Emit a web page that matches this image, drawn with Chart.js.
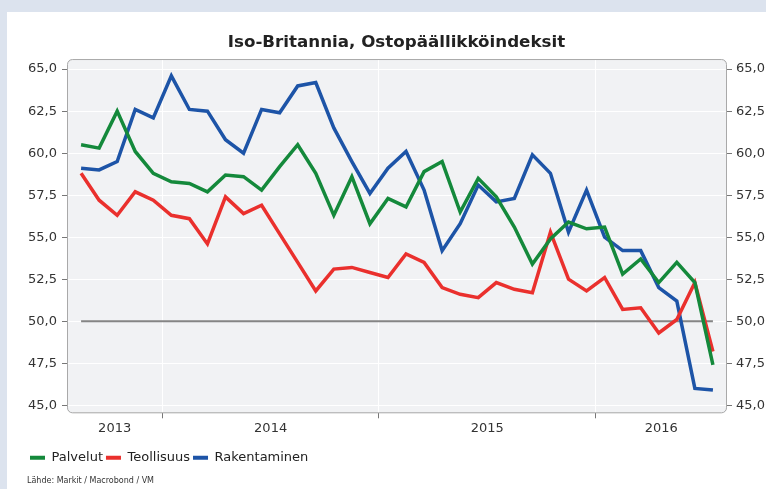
<!DOCTYPE html>
<html><head><meta charset="utf-8">
<script src="https://cdn.jsdelivr.net/npm/chart.js@4.4.0/dist/chart.umd.min.js"></script>
<style>
html,body{margin:0;padding:0;background:#dce3ee;width:766px;height:489px;overflow:hidden}
#panel{position:absolute;left:7px;top:12px;width:759px;height:477px;background:#fff}
#c{position:absolute;left:0;top:0}
</style></head><body>
<div id="panel"></div>
<canvas id="c" width="766" height="489"></canvas>
<script>
// ---- data ----
const months = [
 '2013-08','2013-09','2013-10','2013-11','2013-12',
 '2014-01','2014-02','2014-03','2014-04','2014-05','2014-06','2014-07','2014-08','2014-09','2014-10','2014-11','2014-12',
 '2015-01','2015-02','2015-03','2015-04','2015-05','2015-06','2015-07','2015-08','2015-09','2015-10','2015-11','2015-12',
 '2016-01','2016-02','2016-03','2016-04','2016-05','2016-06','2016-07'
];
const palvelut = [60.5,60.3,62.5,60.1,58.8,58.3,58.2,57.7,58.7,58.6,57.8,59.2,60.5,58.8,56.3,58.6,55.8,57.3,56.8,58.9,59.5,56.5,58.5,57.4,55.6,53.4,54.9,55.9,55.5,55.6,52.8,53.7,52.3,53.5,52.3,47.4];
const teollisuus = [58.8,57.2,56.3,57.7,57.2,56.3,56.1,54.6,57.4,56.4,56.9,55.2,53.5,51.8,53.1,53.2,52.9,52.6,54.0,53.5,52.0,51.6,51.4,52.3,51.9,51.7,55.3,52.5,51.8,52.6,50.7,50.8,49.3,50.1,52.3,48.2];
const rakentaminen = [59.1,59.0,59.5,62.6,62.1,64.6,62.6,62.5,60.8,60.0,62.6,62.4,64.0,64.2,61.5,59.5,57.6,59.1,60.1,57.8,54.2,55.8,58.1,57.1,57.3,59.9,58.8,55.3,57.8,55.0,54.2,54.2,52.0,51.2,46.0,45.9];
const seriesNames = ['Palvelut','Teollisuus','Rakentaminen'];
const yTickValues = [45,47.5,50,52.5,55,57.5,60,62.5,65];
const referenceLevel = 50;
const titleText = 'Iso-Britannia, Ostopäällikköindeksit';
const sourceText = 'Lähde: Markit / Macrobond / VM';

// ---- styling ----
const seriesColors = ['#14893b','#ea302d','#1d54a7'];
const X_MIN = -0.78, X_MAX = 35.78, Y_MIN = 44.52, Y_MAX = 65.6;
const FONT = "'DejaVu Sans', Verdana, sans-serif";
Chart.defaults.font.family = FONT;

function yearTicks(){
  const bounds = [];
  months.forEach((m,i)=>{ if(m.endsWith('-01') && i>0) bounds.push(i-0.5); });
  const edges = [X_MIN, ...bounds, X_MAX];
  const years = [...new Set(months.map(m=>m.slice(0,4)))];
  const t = [];
  for(let k=0;k<edges.length-1;k++){
    t.push({value:(edges[k]+edges[k+1])/2, year:years[k]});
    if(k<bounds.length) t.push({value:bounds[k], boundary:true});
  }
  return t;
}
function rr(ctx,x,y,w,h,r){
  ctx.beginPath();
  ctx.moveTo(x+r,y); ctx.lineTo(x+w-r,y); ctx.arcTo(x+w,y,x+w,y+r,r);
  ctx.lineTo(x+w,y+h-r); ctx.arcTo(x+w,y+h,x+w-r,y+h,r);
  ctx.lineTo(x+r,y+h); ctx.arcTo(x,y+h,x,y+h-r,r);
  ctx.lineTo(x,y+r); ctx.arcTo(x,y,x+r,y,r); ctx.closePath();
}
const plotFrame = {
  id:'plotFrame',
  beforeDraw(chart){
    const {ctx, chartArea:a} = chart;
    ctx.save(); rr(ctx,a.left,a.top,a.width,a.height,5);
    ctx.fillStyle='#f1f2f4'; ctx.fill(); ctx.restore();
  },
  beforeDatasetsDraw(chart){
    const {ctx} = chart, xs = chart.scales.x, ys = chart.scales.y;
    const yy = ys.getPixelForValue(referenceLevel);
    ctx.save(); ctx.strokeStyle='#858585'; ctx.lineWidth=2;
    ctx.beginPath(); ctx.moveTo(xs.getPixelForValue(0),yy); ctx.lineTo(xs.getPixelForValue(months.length-1),yy); ctx.stroke();
    ctx.restore();
  },
  afterDraw(chart){
    const {ctx, chartArea:a} = chart;
    ctx.save(); rr(ctx,a.left+0.5,a.top+0.5,a.width-1,a.height-1,5);
    ctx.strokeStyle='#a9a9a9'; ctx.lineWidth=1; ctx.stroke(); ctx.restore();
  }
};
const series = [palvelut, teollisuus, rakentaminen];
const yTickCfg = s => { s.ticks = yTickValues.map(v=>({value:v})); };
const fmt = v => v.toFixed(1).replace('.', ',');

new Chart(document.getElementById('c'), {
  type:'line',
  data:{
    datasets: series.map((d,k)=>({
      label: seriesNames[k],
      data: d.map((v,i)=>({x:i,y:v})),
      borderColor: seriesColors[k], backgroundColor: seriesColors[k],
      borderWidth: 3.5, pointRadius: 0, tension: 0, yAxisID:'y'
    }))
  },
  options:{
    responsive:false, animation:false, devicePixelRatio:1,
    layout:{padding:{left:27,right:0,top:0,bottom:0}},
    plugins:{
      title:{display:true, text:titleText, color:'#222', font:{size:16.7, weight:'bold'}, padding:{top:32.5,bottom:6.5}},
      subtitle:{display:true, position:'bottom', align:'start', text:sourceText, color:'#333', font:{size:8}, padding:{top:1.5,bottom:3.6}},
      legend:{position:'bottom', align:'start',
        labels:{boxWidth:15, boxHeight:4, padding:3, color:'#222', font:{size:13},
          generateLabels: ch => Chart.defaults.plugins.legend.labels.generateLabels(ch).map(l=>({...l, lineWidth:0, fillStyle:l.strokeStyle}))}},
      tooltip:{enabled:false}
    },
    scales:{
      x:{type:'linear', min:X_MIN, max:X_MAX,
        afterBuildTicks: s => { s.ticks = yearTicks(); },
        afterFit: s => { s.height = 35; },
        ticks:{autoSkip:false, maxRotation:0, padding:3, color:'#333', font:{size:13},
          callback:(v,i,t)=> t[i] && t[i].year ? t[i].year : ''},
        grid:{color: c => c.tick && c.tick.boundary ? '#ffffff' : 'rgba(0,0,0,0)',
          tickColor: c => c.tick && c.tick.boundary ? '#777' : 'rgba(0,0,0,0)', tickLength:5, lineWidth:1},
        border:{display:false}
      },
      y:{position:'left', min:Y_MIN, max:Y_MAX,
        afterBuildTicks: yTickCfg, afterFit: s => { s.width = 40; },
        ticks:{callback:fmt, color:'#333', font:{size:13}, padding:5},
        grid:{color:'#ffffff', tickColor:'#777', tickLength:5, lineWidth:1},
        border:{display:false}
      },
      y2:{position:'right', min:Y_MIN, max:Y_MAX,
        afterBuildTicks: yTickCfg, afterFit: s => { s.width = 39; },
        ticks:{callback:fmt, color:'#333', font:{size:13}, padding:4},
        grid:{drawOnChartArea:false, tickColor:'#777', tickLength:5},
        border:{display:false}
      }
    }
  },
  plugins:[plotFrame]
});
</script>
</body></html>
